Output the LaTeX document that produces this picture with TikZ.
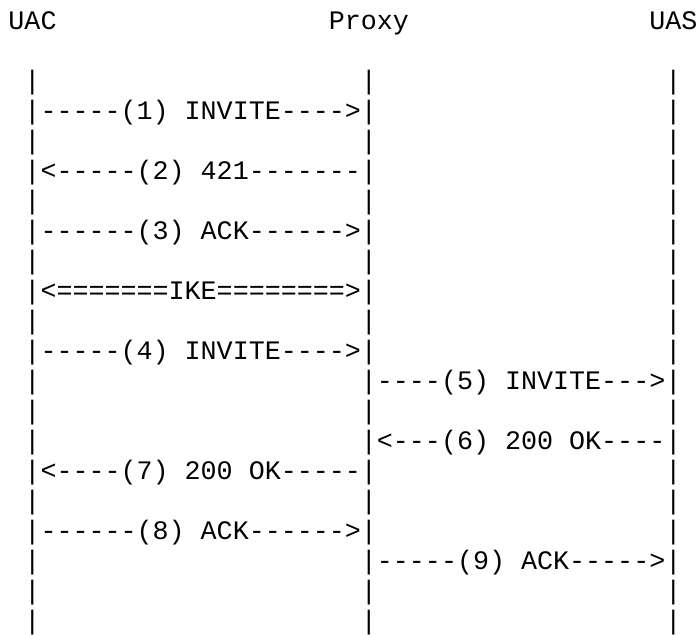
\documentclass[tikz,border=0pt]{standalone}
\usepackage{fontspec}
\setmonofont{Liberation Mono}

\begin{document}
\begin{tikzpicture}[x=16.02pt, y=-30pt,
  txt/.style={anchor=base west, inner sep=0pt, font=\ttfamily\fontsize{26.7}{30}\selectfont}]
  \useasboundingbox (0pt,0pt) rectangle (698pt,-634pt);
  \begin{scope}[shift={(8.27pt,-29.5pt)}]
  % header, one text column = 1 unit, one text row = 1 unit
  \node[txt] (uac) at (0,0) {UAC};
  \node[txt] (proxy) at (20,0) {Proxy};
  \node[txt] (uas) at (40,0) {UAS};
  % lifelines
  \foreach \r in {2,...,20} {
    \foreach \c/\n in {1/uac,22/proxy,41/uas}
      \node[txt] (\n-\r) at (\c,\r) {|};
  }
  % messages
  \node[txt] (m1) at (2,3) {-----(1) INVITE---->};
  \node[txt] (m2) at (2,5) {<-----(2) 421-------};
  \node[txt] (m3) at (2,7) {------(3) ACK------>};
  \node[txt] (ike) at (2,9) {<=======IKE========>};
  \node[txt] (m4) at (2,11) {-----(4) INVITE---->};
  \node[txt] (m5) at (23,12) {----(5) INVITE--->};
  \node[txt] (m6) at (23,14) {<---(6) 200 OK----};
  \node[txt] (m7) at (2,15) {<----(7) 200 OK-----};
  \node[txt] (m8) at (2,17) {------(8) ACK------>};
  \node[txt] (m9) at (23,18) {-----(9) ACK----->};
  \end{scope}
\end{tikzpicture}
\end{document}
